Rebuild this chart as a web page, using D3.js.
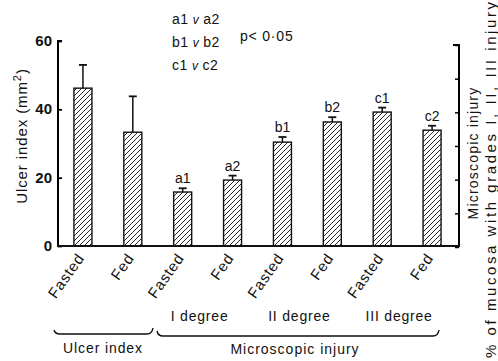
<!DOCTYPE html>
<html>
<head>
<meta charset="utf-8">
<script src="https://cdn.jsdelivr.net/npm/d3@7"></script>
<style>
  body { margin: 0; background: #fff; }
  svg text { font-family: "Liberation Sans", Arial, sans-serif; fill: #111; }
</style>
</head>
<body>
<div id="vis"></div>
<script>
// data
var categories = ["Fasted", "Fed", "Fasted", "Fed", "Fasted", "Fed", "Fasted", "Fed"];
var values = [46.2, 33.3, 15.8, 19.3, 30.4, 36.3, 39.2, 33.9];
var errors = [6.8, 10.5, 1.1, 1.3, 1.5, 1.4, 1.3, 1.3];
var barLabels = ["", "", "a1", "a2", "b1", "b2", "c1", "c2"];
var degreeLabels = ["I degree", "II degree", "III degree"];
var leftTicks = [0, 20, 40, 60];
var rightTicks = [0, 10, 20, 30, 40, 50, 60];
var notes = ["a1 v a2", "b1 v b2", "c1 v c2"];

const width = 498, height = 361;

var svg = d3.select("#vis").append("svg")
  .attr("width", width)
  .attr("height", height);

// hatch fill
var defs = svg.append("defs");
defs.append("pattern")
  .attr("id", "hatch")
  .attr("patternUnits", "userSpaceOnUse")
  .attr("width", 5)
  .attr("height", 5)
  .append("path")
  .attr("d", "M-1,1 l2,-2 M0,5 l5,-5 M4,6 l2,-2")
  .attr("stroke", "#111")
  .attr("stroke-width", 0.9);

var x = d3.scalePoint()
  .domain(d3.range(categories.length))
  .range([58, 457])
  .padding(0.5);

var y = d3.scaleLinear().domain([0, 60]).range([246, 41]);
var y2 = d3.scaleLinear().domain([0, 60]).range([247, 45]);

const barW = 18;

// left axis
var leftAxis = svg.append("g")
  .attr("transform", "translate(58,0)")
  .call(d3.axisRight(y).tickValues(leftTicks).tickSize(4).tickFormat(""));
leftAxis.select(".domain").attr("stroke-width", 2).attr("d", "M4," + y(60) + "H0V" + y(0));
leftAxis.selectAll(".tick line").attr("stroke-width", 1.8);

svg.selectAll(".ylab")
  .data(leftTicks)
  .enter()
  .append("text")
  .attr("x", 52)
  .attr("y", function(d) { return y(d) + 5; })
  .attr("text-anchor", "end")
  .style("font-size", "15px")
  .style("font-weight", "bold")
  .text(function(d) { return d; });

// right axis
var rightAxis = svg.append("g")
  .attr("transform", "translate(459,0)")
  .call(d3.axisLeft(y2).tickValues(rightTicks).tickSize(4).tickFormat(""));
rightAxis.select(".domain").attr("stroke-width", 2).attr("d", "M-6," + y2(60) + "H0V" + y2(0));
rightAxis.selectAll(".tick line").attr("stroke-width", 1.5);

// baseline
svg.append("line")
  .attr("x1", 57).attr("x2", 460)
  .attr("y1", y(0)).attr("y2", y(0))
  .attr("stroke", "#111")
  .attr("stroke-width", 2.2);

// error bars
var err = svg.append("g").selectAll("g")
  .data(values)
  .enter()
  .append("g");

err.append("line")
  .attr("x1", function(d, i) { return x(i); })
  .attr("x2", function(d, i) { return x(i); })
  .attr("y1", function(d) { return y(d); })
  .attr("y2", function(d, i) { return y(d + errors[i]); })
  .attr("stroke", "#111")
  .attr("stroke-width", 1.5);

err.append("line")
  .attr("x1", function(d, i) { return x(i) - 4; })
  .attr("x2", function(d, i) { return x(i) + 4; })
  .attr("y1", function(d, i) { return y(d + errors[i]); })
  .attr("y2", function(d, i) { return y(d + errors[i]); })
  .attr("stroke", "#111")
  .attr("stroke-width", 1.8);

// bars
svg.append("g").selectAll("rect")
  .data(values)
  .enter()
  .append("rect")
  .attr("x", function(d, i) { return x(i) - barW / 2; })
  .attr("y", function(d) { return y(d); })
  .attr("width", barW)
  .attr("height", function(d) { return y(0) - y(d); })
  .attr("fill", "url(#hatch)")
  .attr("stroke", "#111")
  .attr("stroke-width", 1.4);

// letters over bars
svg.append("g").selectAll("text")
  .data(barLabels)
  .enter()
  .append("text")
  .attr("x", function(d, i) { return x(i); })
  .attr("y", function(d, i) { return y(values[i] + errors[i]) - 5; })
  .attr("text-anchor", "middle")
  .style("font-size", "14px")
  .text(function(d) { return d; });

// rotated category labels
svg.append("g").selectAll("text")
  .data(categories)
  .enter()
  .append("text")
  .attr("transform", function(d, i) { return "translate(" + (x(i) + 2) + ",258) rotate(-55)"; })
  .attr("text-anchor", "end")
  .style("font-size", "15px")
  .style("letter-spacing", "0.8px")
  .text(function(d) { return d; });

// degree labels, centred between the two bars of each group
svg.append("g").selectAll("text")
  .data(degreeLabels)
  .enter()
  .append("text")
  .attr("y", 321)
  .style("font-size", "14px")
  .style("letter-spacing", "0.8px")
  .text(function(d) { return d; })
  .attr("x", function(d, i) {
    var c = (x(2 + 2 * i) + x(3 + 2 * i)) / 2 - 8;
    return c - this.getComputedTextLength() / 2;
  });

// braces
function brace(x0, x1, yb, hl, hr) {
  return "M" + x0 + "," + (yb - hl) + " Q" + (x0 + 1) + "," + yb + " " + (x0 + 6) + "," + yb +
    " L" + (x1 - 6) + "," + yb + " Q" + (x1 - 1) + "," + yb + " " + x1 + "," + (yb - hr);
}
svg.append("path")
  .attr("d", brace(54, 153, 334, 4, 6))
  .attr("fill", "none").attr("stroke", "#111").attr("stroke-width", 1.4);
svg.append("path")
  .attr("d", brace(157, 439, 336, 5, 6))
  .attr("fill", "none").attr("stroke", "#111").attr("stroke-width", 1.4);

svg.append("text")
  .attr("x", 103).attr("y", 353)
  .attr("text-anchor", "middle")
  .style("font-size", "14px")
  .style("letter-spacing", "0.9px")
  .text("Ulcer index");

svg.append("text")
  .attr("x", 295).attr("y", 354)
  .attr("text-anchor", "middle")
  .style("font-size", "14px")
  .style("letter-spacing", "1px")
  .text("Microscopic injury");

// significance note
svg.append("g").selectAll("text")
  .data(notes)
  .enter()
  .append("text")
  .attr("x", 172)
  .attr("y", function(d, i) { return 24 + i * 23; })
  .style("font-size", "14px")
  .style("letter-spacing", "0.4px")
  .each(function(d) {
    var parts = d.split(" v ");
    var t = d3.select(this);
    t.append("tspan").text(parts[0] + " ");
    t.append("tspan").style("font-style", "italic").style("font-size", "12px").text("v");
    t.append("tspan").text(" " + parts[1]);
  });

svg.append("text")
  .attr("x", 240).attr("y", 41)
  .style("font-size", "14px")
  .style("letter-spacing", "0.8px")
  .text("p< 0\u00b705");

// left axis title
var yl = svg.append("text")
  .attr("transform", "translate(27,136) rotate(-90)")
  .attr("text-anchor", "middle")
  .style("font-size", "15px")
  .style("letter-spacing", "0.9px");
yl.append("tspan").text("Ulcer index (mm");
yl.append("tspan").attr("dy", -6).style("font-size", "11px").text("2");
yl.append("tspan").attr("dy", 6).text(")");

// right axis titles
svg.append("text")
  .attr("transform", "translate(478,153) rotate(-90)")
  .attr("text-anchor", "middle")
  .style("font-size", "14px")
  .style("letter-spacing", "1.2px")
  .text("Microscopic injury");

svg.append("text")
  .attr("transform", "translate(496,358) rotate(-90)")
  .attr("text-anchor", "start")
  .attr("textLength", 356)
  .attr("lengthAdjust", "spacing")
  .style("font-size", "15px")
  .text("% of mucosa with grades I, II, III injury");
</script>
</body>
</html>
